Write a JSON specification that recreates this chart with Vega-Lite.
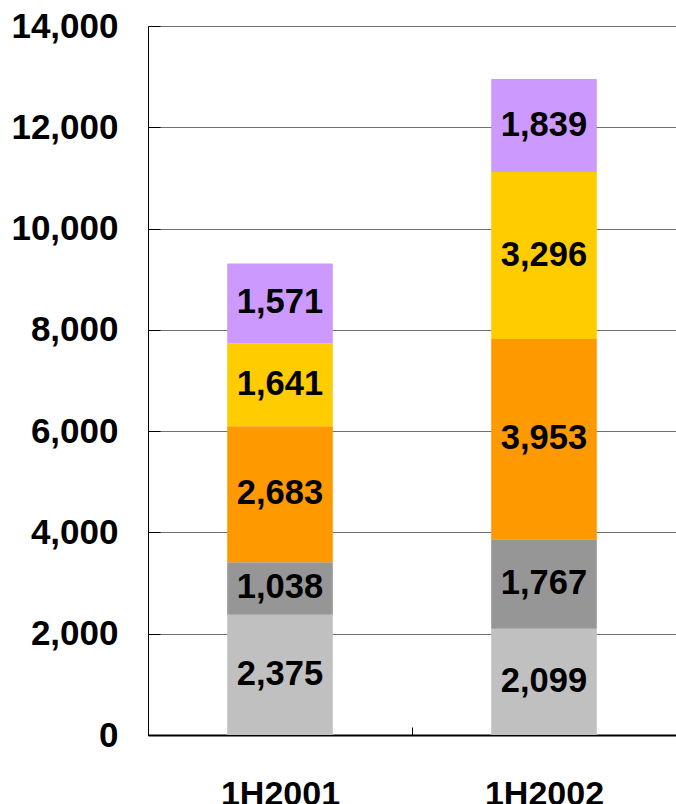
{
  "$schema": "https://vega.github.io/schema/vega-lite/v6.json",
  "width": 528,
  "height": 709,
  "autosize": {"type": "none"},
  "padding": {"left": 148, "top": 26, "right": 0, "bottom": 69},
  "config": {
    "view": {"stroke": null},
    "font": "Liberation Sans",
    "axisY": {
      "title": null,
      "labelExpr": "format(datum.value, ',')",
      "labelFont": "Liberation Sans",
      "labelFontWeight": "bold",
      "labelFontSize": 35,
      "labelColor": "black",
      "labelPadding": 42,
      "grid": true,
      "gridColor": "#707070",
      "domainColor": "black",
      "tickColor": "black",
      "tickSize": -12
    }
  },
  "data": {
    "values": [
      {"period": "1H2001", "segment": "A", "rank": 1, "value": 2375},
      {"period": "1H2001", "segment": "B", "rank": 2, "value": 1038},
      {"period": "1H2001", "segment": "C", "rank": 3, "value": 2683},
      {"period": "1H2001", "segment": "D", "rank": 4, "value": 1641},
      {"period": "1H2001", "segment": "E", "rank": 5, "value": 1571},
      {"period": "1H2002", "segment": "A", "rank": 1, "value": 2099},
      {"period": "1H2002", "segment": "B", "rank": 2, "value": 1767},
      {"period": "1H2002", "segment": "C", "rank": 3, "value": 3953},
      {"period": "1H2002", "segment": "D", "rank": 4, "value": 3296},
      {"period": "1H2002", "segment": "E", "rank": 5, "value": 1839}
    ]
  },
  "encoding": {
    "x": {
      "field": "period",
      "type": "nominal",
      "scale": {"paddingInner": 0, "paddingOuter": 0},
      "axis": {
        "title": null,
        "labelAngle": 0,
        "labelFont": "Liberation Sans",
        "labelFontWeight": "bold",
        "labelFontSize": 34,
        "labelColor": "black",
        "labelPadding": 50,
        "domainColor": "black",
        "domainWidth": 2,
        "tickBand": "extent",
        "tickColor": "black",
        "tickSize": -8
      }
    }
  },
  "layer": [
    {
      "mark": {"type": "bar", "width": {"band": 0.4}},
      "encoding": {
        "y": {
          "field": "value",
          "type": "quantitative",
          "stack": "zero",
          "scale": {"domain": [0, 14000], "nice": false},
          "axis": {"title": null, "values": [0, 2000, 4000, 6000, 8000, 10000, 12000, 14000]}
        },
        "color": {
          "field": "segment",
          "type": "nominal",
          "scale": {
            "domain": ["A", "B", "C", "D", "E"],
            "range": ["#C0C0C0", "#969696", "#FF9900", "#FFCC00", "#CC99FF"]
          },
          "legend": null
        },
        "order": {"field": "rank", "type": "quantitative"}
      }
    },
    {
      "transform": [
        {"stack": "value", "groupby": ["period"], "sort": [{"field": "rank"}], "as": ["v0", "v1"]},
        {"fold": ["v0", "v1"], "as": ["edge", "pos"]}
      ],
      "mark": {"type": "text", "font": "Liberation Sans", "fontWeight": "bold", "fontSize": 34.5, "color": "black", "baseline": "middle", "align": "center"},
      "encoding": {
        "y": {"field": "pos", "aggregate": "mean", "type": "quantitative", "axis": {"title": null, "values": [0, 2000, 4000, 6000, 8000, 10000, 12000, 14000]}},
        "detail": {"field": "segment", "type": "nominal"},
        "text": {"field": "value", "aggregate": "max", "type": "quantitative", "format": ","}
      }
    }
  ]
}
